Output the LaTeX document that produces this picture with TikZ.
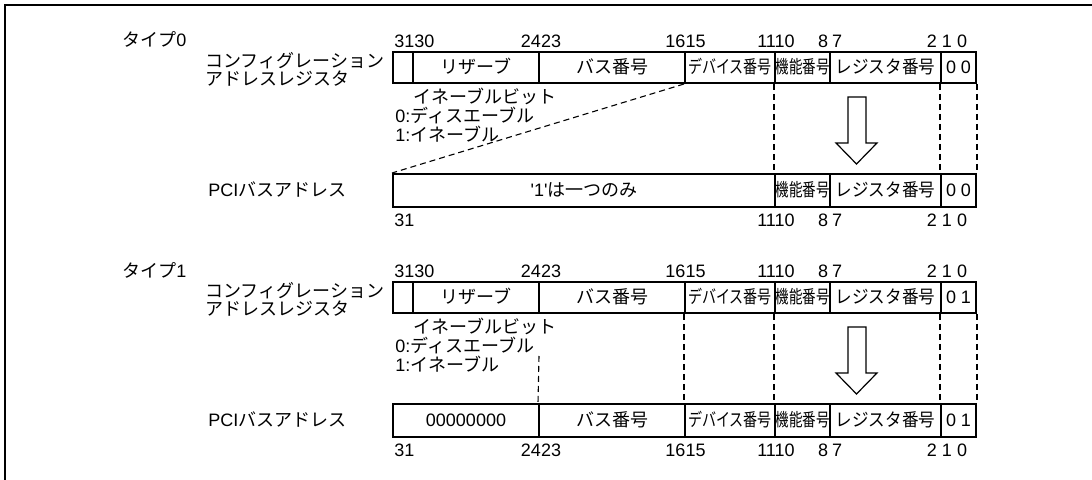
\documentclass[tikz,border=0pt]{standalone}
\usepackage{fontspec}
\usepackage{graphicx}
\setmainfont{Liberation Sans}
\newfontfamily\jp{Noto Sans CJK JP}
\newcommand\fld[6]{\node[fld, minimum width={(#3-#2)*0.5pt}, minimum height={(#5-#4)*0.5pt}] (#1) at ({(#2+#3)/2},{(#4+#5)/2}) {#6};}
\begin{document}
\begin{tikzpicture}[x=0.5pt,y=-0.5pt, font=\fontsize{9}{8.8}\selectfont,
  fld/.style={draw, line width=1pt, inner sep=0pt, anchor=center, text height=6.5pt, text depth=0pt},
  lbl/.style={inner sep=0pt, anchor=center, text height=6.5pt, text depth=0pt},
  lft/.style={inner sep=0pt, anchor=west, text height=6.5pt, text depth=0pt},
  dsh/.style={dashed, dash pattern=on 3pt off 2pt, line width=0.55pt},
  bigarrow/.style={line width=0.6pt, fill=white}]
\useasboundingbox (0,0) rectangle (1092,480);
\draw[line width=1pt] (5,480) -- (5,5) -- (1092,5);

% ---------------- Type 0 ----------------
\node[lft] (t0) at (122,40) {{\jp タイプ}0};
\node[lft] (c0a) at (205,61) {\jp コンフィグレーション};
\node[lft] (c0b) at (205,79) {\jp アドレスレジスタ};
\node[lft] (p0) at (208,190) {PCI{\jp バスアドレス}};

\node[lft] (n0a) at (394,41) {3130};
\node[lbl] (n0b) at (541,41) {2423};
\node[lbl] (n0c) at (685.5,41) {1615};
\node[lbl] (n0d) at (776,41) {1110};
\node[lbl] (n0e) at (830,41) {8\hspace{2pt}7};
\node[lbl] (n0f) at (947,41) {2 1 0};

\fld{e0}{393}{413}{52}{83}{}
\fld{r0}{413}{539}{52}{83}{\jp リザーブ}
\fld{b0}{539}{685}{52}{83}{\jp バス番号}
\fld{d0}{685}{775}{52}{83}{\jp\scalebox{0.78}[1]{デバイス番号}}
\fld{f0}{775}{830}{52}{83}{\jp\scalebox{0.75}[1]{機能番号}}
\fld{g0}{830}{941}{52}{83}{\jp\scalebox{0.92}[1]{レジスタ番号}}
\fld{z0}{941}{976}{52}{83}{0 0}

\node[lft] (eb0) at (413,97) {\jp イネーブルビット};
\node[lft] (ds0) at (395,116) {0:{\jp ディスエーブル}};
\node[lft] (en0) at (395,135) {1:{\jp イネーブル}};

\fld{q0}{393}{775}{174}{207}{\textquotesingle 1\textquotesingle{\jp は一つのみ}}
\fld{qf0}{775}{830}{174}{207}{\jp\scalebox{0.75}[1]{機能番号}}
\fld{qg0}{830}{941}{174}{207}{\jp\scalebox{0.92}[1]{レジスタ番号}}
\fld{qz0}{941}{976}{174}{207}{0 0}

\node[lft] (m0a) at (394,220) {31};
\node[lbl] (m0d) at (776,220) {1110};
\node[lbl] (m0e) at (830,220) {8\hspace{2pt}7};
\node[lbl] (m0f) at (947,220) {2 1 0};

\draw[dsh] (d0.south west) -- (q0.north west);
\draw[dsh] (f0.south west) -- (qf0.north west);
\draw[dsh] (z0.south west) -- (qz0.north west);
\draw[dsh] (z0.south east) -- (qz0.north east);

\draw[bigarrow] (848,97) -- (866,97) -- (866,143) -- (877,143) -- (856.5,164) -- (836,143) -- (848,143) -- cycle;

% ---------------- Type 1 ----------------
\node[lft] (t1) at (122,271) {{\jp タイプ}1};
\node[lft] (c1a) at (205,291) {\jp コンフィグレーション};
\node[lft] (c1b) at (205,309) {\jp アドレスレジスタ};
\node[lft] (p1) at (208,420) {PCI{\jp バスアドレス}};

\node[lft] (n1a) at (394,271) {3130};
\node[lbl] (n1b) at (541,271) {2423};
\node[lbl] (n1c) at (685.5,271) {1615};
\node[lbl] (n1d) at (776,271) {1110};
\node[lbl] (n1e) at (830,271) {8\hspace{2pt}7};
\node[lbl] (n1f) at (947,271) {2 1 0};

\fld{e1}{393}{413}{282}{313}{}
\fld{r1}{413}{539}{282}{313}{\jp リザーブ}
\fld{b1}{539}{685}{282}{313}{\jp バス番号}
\fld{d1}{685}{775}{282}{313}{\jp\scalebox{0.78}[1]{デバイス番号}}
\fld{f1}{775}{830}{282}{313}{\jp\scalebox{0.75}[1]{機能番号}}
\fld{g1}{830}{941}{282}{313}{\jp\scalebox{0.92}[1]{レジスタ番号}}
\fld{z1}{941}{976}{282}{313}{0 1}

\node[lft] (eb1) at (413,327) {\jp イネーブルビット};
\node[lft] (ds1) at (395,346) {0:{\jp ディスエーブル}};
\node[lft] (en1) at (395,365) {1:{\jp イネーブル}};

\fld{q1}{393}{539}{404}{437}{00000000}
\fld{qb1}{539}{685}{404}{437}{\jp バス番号}
\fld{qd1}{685}{775}{404}{437}{\jp\scalebox{0.78}[1]{デバイス番号}}
\fld{qf1}{775}{830}{404}{437}{\jp\scalebox{0.75}[1]{機能番号}}
\fld{qg1}{830}{941}{404}{437}{\jp\scalebox{0.92}[1]{レジスタ番号}}
\fld{qz1}{941}{976}{404}{437}{0 1}

\node[lft] (m1a) at (394,450) {31};
\node[lbl] (m1b) at (541,450) {2423};
\node[lbl] (m1c) at (685.5,450) {1615};
\node[lbl] (m1d) at (776,450) {1110};
\node[lbl] (m1e) at (830,450) {8\hspace{2pt}7};
\node[lbl] (m1f) at (947,450) {2 1 0};

\coordinate (s1) at (539,356);
\draw[dsh] (s1) -- (qb1.north west);
\draw[dsh] (d1.south west) -- (qd1.north west);
\draw[dsh] (f1.south west) -- (qf1.north west);
\draw[dsh] (z1.south west) -- (qz1.north west);
\draw[dsh] (z1.south east) -- (qz1.north east);

\draw[bigarrow] (848,327) -- (866,327) -- (866,373) -- (877,373) -- (856.5,394) -- (836,373) -- (848,373) -- cycle;
\end{tikzpicture}
\end{document}
